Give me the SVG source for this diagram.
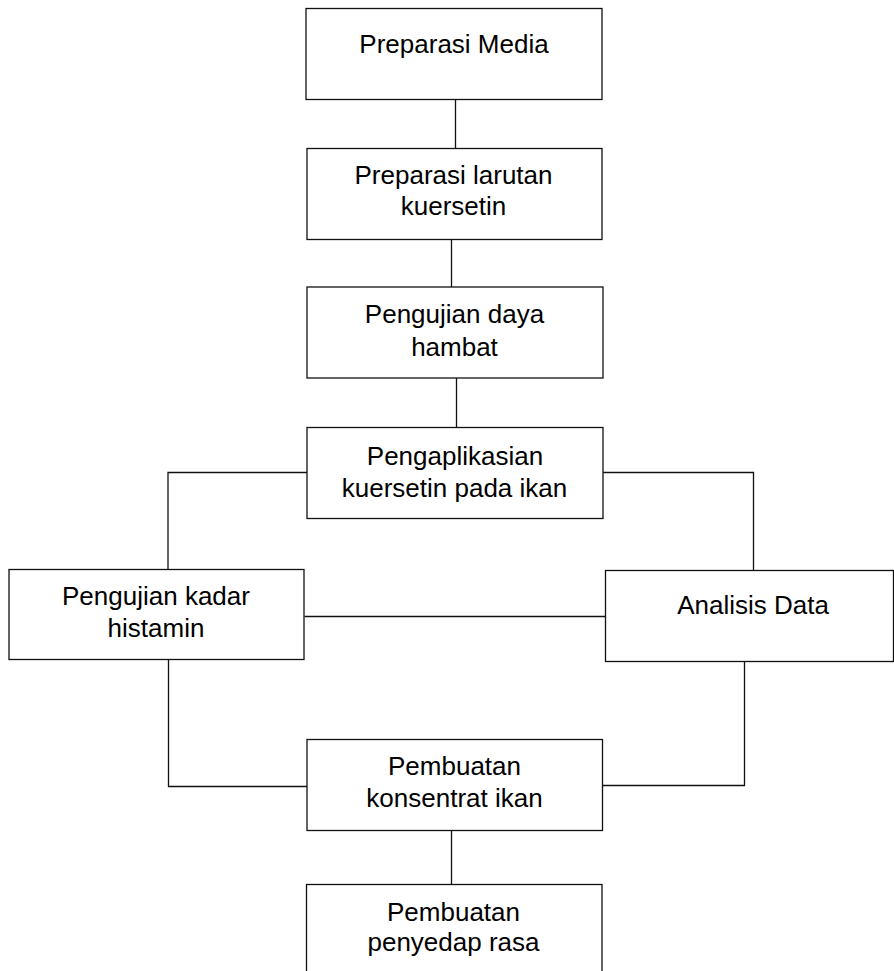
<svg xmlns="http://www.w3.org/2000/svg" width="894" height="971" viewBox="0 0 894 971">
<style>
.box{fill:#fff;stroke:#111;stroke-width:1.3}
.con{fill:none;stroke:#111;stroke-width:1.3}
text{font-family:"Liberation Sans",Arial,sans-serif;font-size:26px;fill:#000;text-anchor:middle}
</style>
<rect width="894" height="971" fill="#fff"/>
<g id="connectors">
<path class="con" d="M455.5 99.5V148.5"/>
<path class="con" d="M451.5 239.5V287"/>
<path class="con" d="M456.5 378V427.5"/>
<path class="con" d="M307 472.5H168V569.5"/>
<path class="con" d="M603 472.5H753.5V570.5"/>
<path class="con" d="M304.5 616.5H605.5"/>
<path class="con" d="M168.5 660V786.5H307"/>
<path class="con" d="M744.5 661.5V785.5H602.5"/>
<path class="con" d="M451.5 830.5V884.5"/>
</g>
<g id="node1"><rect class="box" x="306" y="8.5" width="296" height="91"/><text x="454" y="53">Preparasi Media</text></g>
<g id="node2"><rect class="box" x="307" y="148.5" width="295" height="91"/><text x="453.5" y="184">Preparasi larutan</text><text x="453.5" y="215">kuersetin</text></g>
<g id="node3"><rect class="box" x="307" y="287" width="296" height="91"/><text x="454.5" y="323">Pengujian daya</text><text x="454.5" y="356">hambat</text></g>
<g id="node4"><rect class="box" x="307" y="427.5" width="296" height="91"/><text x="455" y="465">Pengaplikasian</text><text x="454.5" y="497">kuersetin pada ikan</text></g>
<g id="node5"><rect class="box" x="9" y="569.5" width="295" height="90"/><text x="156" y="605">Pengujian kadar</text><text x="156" y="637">histamin</text></g>
<g id="node6"><rect class="box" x="605.5" y="570.5" width="288" height="91"/><text x="753" y="614">Analisis Data</text></g>
<g id="node7"><rect class="box" x="307" y="739.5" width="295.5" height="91"/><text x="454.5" y="775">Pembuatan</text><text x="454.5" y="806.5">konsentrat ikan</text></g>
<g id="node8"><rect class="box" x="306.5" y="884.5" width="295.5" height="100"/><text x="453.5" y="921">Pembuatan</text><text x="453.5" y="951">penyedap rasa</text></g>
</svg>
